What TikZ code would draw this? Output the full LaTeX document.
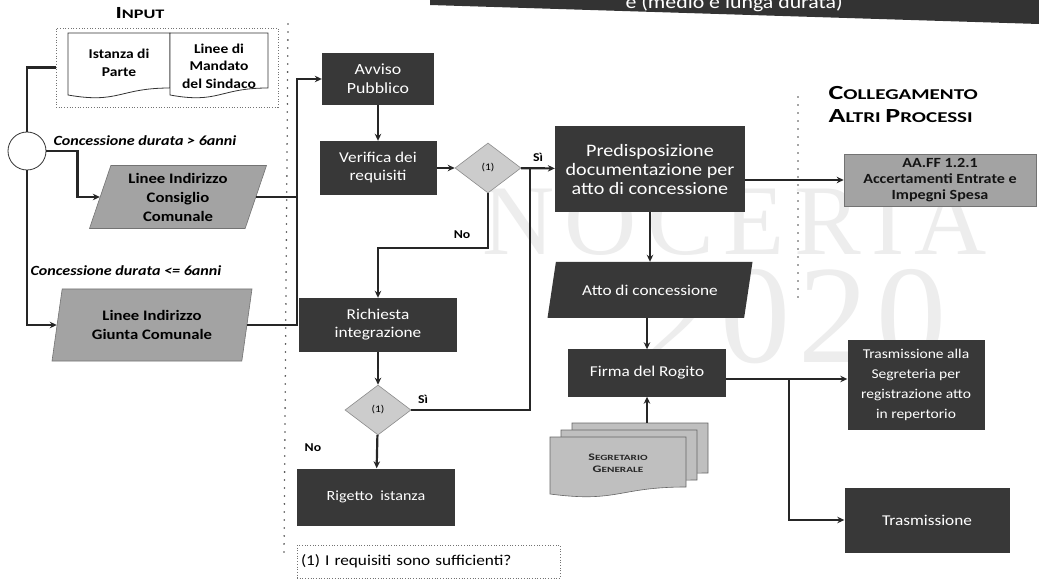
\documentclass[tikz,border=0pt]{standalone}
\usepackage{fontspec}
\setmainfont{Carlito}[FakeStretch=1.15]
\newfontfamily\capsfont{Carlito}[FakeStretch=1.4]
\newfontfamily\wmfont{Liberation Serif}
\usetikzlibrary{shapes.geometric,arrows.meta,calc}

% document symbol with a wavy lower edge: corners (x1,y1) and (x2,y2)
\newcommand{\wavedoc}[5][]{%
  \filldraw[#1] (#2,#3) -- (#4,#3) -- (#4,#5-7)
    .. controls ({(#2+#4)/2},#5-7) and ({(#2+#4)/2},#5+9) .. (#2,#5) -- cycle;}

\tikzset{
  darkbox/.style={rectangle, fill=black!78, text=white, align=center, inner sep=2pt,
                  font=\fontsize{15}{18}\selectfont},
  graypara/.style={trapezium, trapezium stretches body, fill=black!36, draw=black!55,
                   line width=0.6pt, align=center, inner sep=1pt,
                   font=\bfseries\fontsize{14.5}{19}\selectfont},
  dec/.style={diamond, fill=black!20, draw=black!45, line width=0.6pt, inner sep=0pt,
              minimum width=66pt, minimum height=50pt, font=\fontsize{10}{10}\selectfont},
  conn/.style={draw=black!85, line width=2.2pt},
  arr/.style={conn, -{Stealth[length=7pt,width=6.5pt]}},
  lbl/.style={font=\bfseries\fontsize{12}{12}\selectfont},
  sep/.style={draw=black!70, line width=1.8pt, line cap=round, dash pattern=on 0pt off 8pt},
  segdoc/.style={fill=black!25, draw=black!60, line width=0.6pt},
}

\begin{document}
\begin{tikzpicture}[x=1pt,y=-1pt]
\path[use as bounding box] (0,0) rectangle (1039,585);
\fill[white] (0,0) rectangle (1039,585);

% background watermark
\node[text=black!7, font=\wmfont\fontsize{100}{100}\selectfont] (wm1) at (735,222)
  {N\hspace{10pt}O\hspace{10pt}C\hspace{10pt}E\hspace{10pt}R\hspace{10pt}I\hspace{10pt}A};
\node[text=black!7, font=\wmfont\fontsize{140}{140}\selectfont] (wm2) at (795,317)
  {2\hspace{8pt}0\hspace{8pt}2\hspace{8pt}0};

% title band
\fill[black!80] (430,0) -- (1039,0) -- (1039,24) -- (430,5) -- cycle;
\node[text=white, font=\fontsize{19}{19}\selectfont, anchor=base west] (ttl) at (622,9)
  {e (medio e lunga durata)};

% column separators
\draw[sep] (288,24) -- (284,556);
\draw[sep] (798,97) -- (798,298);

% ---- input column ----
\node[font=\capsfont\bfseries, anchor=base] (inptitle) at (140,19)
  {\fontsize{17}{17}\selectfont I\fontsize{13}{13}\selectfont NPUT};
\node[draw=black!55, dotted, line width=0.7pt, minimum width=222pt, minimum height=79pt,
      inner sep=0pt] (inp) at (167,67.5) {};
\wavedoc[fill=white, draw=black!80, line width=0.8pt]{68}{33}{170}{95}
\wavedoc[fill=white, draw=black!80, line width=0.8pt]{170}{33}{268}{95}
\node[font=\bfseries\fontsize{13.5}{17.5}\selectfont, align=center] (doc1) at (119,63)
  {Istanza di\\Parte};
\node[font=\bfseries\fontsize{13.5}{17.5}\selectfont, align=center] (doc2) at (219,66)
  {Linee di\\Mandato\\del Sindaco};

\node[circle, draw=black!80, fill=white, line width=0.8pt, minimum size=38pt, inner sep=0pt]
  (c) at (27,151) {};

\node[font=\bfseries\itshape\fontsize{14}{14}\selectfont] (l1) at (145,141)
  {Concessione durata > 6anni};
\node[font=\bfseries\itshape\fontsize{14}{14}\selectfont] (l2) at (126,271)
  {Concessione durata <= 6anni};

\node[graypara, trapezium left angle=67, trapezium right angle=113,
      minimum width=177pt, minimum height=63pt] (p1) at (178,197)
  {Linee Indirizzo\\Consiglio\\Comunale};
\node[graypara, trapezium left angle=72, trapezium right angle=108,
      minimum width=200pt, minimum height=72pt] (p2) at (152,325)
  {Linee Indirizzo\\Giunta Comunale};

% ---- main flow ----
\node[darkbox, minimum width=112pt, minimum height=52pt, font=\fontsize{15.5}{19}\selectfont]
  (av) at (378,79) {Avviso\\Pubblico};
\node[darkbox, minimum width=117pt, minimum height=54pt] (ver) at (378,168)
  {Verifica dei\\requisiti};
\node[dec] (d1) at (488,168) {(1)};
\node[darkbox, minimum width=190pt, minimum height=86pt, font=\fontsize{17.5}{19}\selectfont]
  (pre) at (650,169) {Predisposizione\\documentazione per\\atto di concessione};
\node[darkbox, minimum width=158pt, minimum height=54pt] (ric) at (378,325)
  {Richiesta\\integrazione};
\node[dec] (d2) at (378,410) {(1)};
\node[darkbox, minimum width=158pt, minimum height=57pt, font=\fontsize{14}{18}\selectfont]
  (rig) at (376,497) {Rigetto\ \ istanza};
\node[darkbox, trapezium, trapezium stretches body, trapezium left angle=60,
      trapezium right angle=120, minimum width=205pt, minimum height=56pt]
  (atto) at (650,290) {Atto di concessione};
\node[darkbox, minimum width=158pt, minimum height=47pt] (firma) at (647,373)
  {Firma del Rogito};

% secretary: stacked documents
\wavedoc[segdoc]{572}{423}{708}{480}
\wavedoc[segdoc]{561}{430}{697}{487}
\wavedoc[segdoc]{550}{437}{686}{494}
\node[minimum width=158pt, minimum height=71pt, inner sep=0pt] (seg) at (629,458.5) {};
\node[font=\capsfont\bfseries, align=center, text=black!85] (segtxt) at (618,463)
  {\fontsize{10}{13}\selectfont S\fontsize{8}{13}\selectfont EGRETARIO\\
   \fontsize{10}{13}\selectfont G\fontsize{8}{13}\selectfont ENERALE};

% ---- linked processes ----
\node[anchor=base west, font=\capsfont\bfseries] (col1) at (825,100)
  {\fontsize{20}{20}\selectfont C\fontsize{15}{15}\selectfont OLLEGAMENTO};
\node[anchor=base west, font=\capsfont\bfseries] (col2) at (825,123)
  {\fontsize{20}{20}\selectfont A\fontsize{15}{15}\selectfont LTRI
   \fontsize{20}{20}\selectfont P\fontsize{15}{15}\selectfont ROCESSI};
\node[rectangle, fill=black!36, draw=black!55, line width=0.6pt, minimum width=192pt,
      minimum height=52pt, align=center, inner sep=1pt, text=black!92,
      font=\bfseries\fontsize{14}{16}\selectfont] (aaff) at (940,180)
  {AA.FF 1.2.1\\Accertamenti Entrate e\\Impegni Spesa};
\node[darkbox, minimum width=137pt, minimum height=90pt, font=\fontsize{13.5}{20}\selectfont]
  (tr1) at (916,385) {Trasmissione alla\\Segreteria per\\registrazione atto\\in repertorio};
\node[darkbox, minimum width=165pt, minimum height=65pt] (tr2) at (927,520) {Trasmissione};

% footnote
\node[draw=black!55, dotted, line width=0.7pt, minimum width=263pt, minimum height=33pt,
      text width=255pt, align=left, inner sep=4pt, font=\fontsize{15}{15}\selectfont]
  (fn) at (428.5,561.5) {(1) I requisiti sono sufficienti?};

% ---- connectors ----
\draw[conn] (inp.west) -| (c.north);
\draw[arr] (c.east) -- ++(31,0) |- (p1.west);
\draw[arr] (c.south) |- (p2.west);
\draw[conn] (p1.east) -| ([xshift=-25pt]av.west);
\draw[arr] (p2.east) -| ([xshift=-25pt]av.west) -- (av.west);

\draw[arr] (av) -- (ver);
\draw[arr] (ver) -- (d1);
\draw[arr] (d1) -- (pre);
\node[lbl] (si1) at (538,157) {Sì};
\coordinate (jsi) at (530,168);
\draw[conn] (d2.east) -| (jsi);
\node[lbl] (si2) at (423,399) {Sì};
\draw[arr] (d1.south) -- ++(0,55) -| (ric.north);
\node[lbl] (no1) at (462,235) {No};
\draw[arr] (ric) -- (d2);
\draw[arr] (d2) -- (rig);
\node[lbl] (no2) at (313,448) {No};

\draw[arr] (pre.east |- aaff.west) -- (aaff.west);
\draw[arr] (pre) -- (atto);
\draw[arr] (atto.south -| firma.north) -- (firma.north);
\draw[arr] (seg.north -| firma.south) -- (firma.south);
\coordinate (fr) at ([yshift=-6pt]firma.east);
\draw[arr] (fr) -- (fr -| tr1.west);
\path (fr) ++(63,0) coordinate (br);
\draw[arr] (br) |- (tr2.west);
\end{tikzpicture}
\end{document}
